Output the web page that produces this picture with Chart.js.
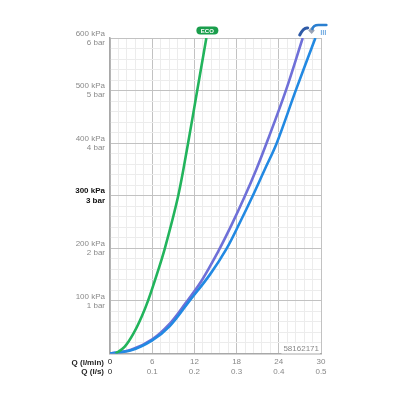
<!DOCTYPE html>
<html>
<head>
<meta charset="utf-8">
<script src="https://cdn.jsdelivr.net/npm/chart.js@4"></script>
<style>
html,body{margin:0;padding:0;background:#fff;}
#wrap{width:400px;height:400px;position:relative;}
</style>
</head>
<body>
<div id="wrap"><canvas id="c"></canvas></div>
<script>
// Pressure (kPa) vs flow (l/min)
const ecoQ    = [0.8, 2.1, 3.5, 4.5, 5.4, 6.65, 7.8, 9.7, 11.1, 12.4, 13.7];
const ecoP    = [0, 13, 42, 70, 100, 150, 200, 300, 400, 500, 600];
const handQ   = [0, 3, 6, 8.5, 10.7, 13.0, 15.3, 17.3, 19.1, 20.8, 22.4, 25.0, 27.4];
const handP   = [0, 7, 27, 57, 95, 138, 192, 245, 297, 350, 405, 500, 600];
const headQ   = [0, 3, 6, 8.5, 11.3, 14.2, 16.6, 18.5, 20.3, 22.0, 23.7, 26.4, 29.2];
const headP   = [0, 6, 25, 52, 100, 150, 200, 250, 300, 350, 400, 500, 600];
const kpaTicks = [100, 200, 300, 400, 500, 600];
const flowTicks = [0, 6, 12, 18, 24, 30];
const axisTitles = ['Q (l/min)', 'Q (l/s)'];
const codeText = '58162171';

const FONT = 'Liberation Sans, Arial, sans-serif';
const toXY = (qs, ps) => qs.map((q, i) => ({x: q, y: ps[i]}));

const isMajorX = v => flowTicks.some(t => Math.abs(t - v) < 1e-6);
const isMajorY = v => Math.abs(v % 100) < 1e-6;

const extras = {
  id: 'extras',
  afterDraw(chart) {
    const ctx = chart.ctx;
    const xs = chart.scales.x, ys = chart.scales.y;
    ctx.save();
    // axis titles at the bottom left
    ctx.font = 'bold 8px ' + FONT;
    ctx.fillStyle = '#222';
    ctx.textAlign = 'right';
    ctx.textBaseline = 'middle';
    ctx.fillText(axisTitles[0], xs.left - 6, ys.bottom + 9);
    ctx.fillText(axisTitles[1], xs.left - 6, ys.bottom + 18);
    // code label
    ctx.font = '8px ' + FONT;
    const w = ctx.measureText(codeText).width;
    const cx = xs.right - 2, cy = ys.bottom - 5;
    ctx.fillStyle = '#fff';
    ctx.fillRect(cx - w - 2, cy - 5, w + 3, 10);
    ctx.fillStyle = '#888';
    ctx.fillText(codeText, cx, cy);
    // ECO badge above the green curve end
    const ex = xs.getPixelForValue(ecoQ[ecoQ.length - 1]) + 1;
    const ey = ys.top - 7.5;
    ctx.fillStyle = '#1a9e4c';
    ctx.beginPath();
    const bw = 22, bh = 8;
    ctx.moveTo(ex - bw/2 + bh/2, ey - bh/2);
    ctx.lineTo(ex + bw/2 - bh/2, ey - bh/2);
    ctx.arc(ex + bw/2 - bh/2, ey, bh/2, -Math.PI/2, Math.PI/2);
    ctx.lineTo(ex - bw/2 + bh/2, ey + bh/2);
    ctx.arc(ex - bw/2 + bh/2, ey, bh/2, Math.PI/2, Math.PI*1.5);
    ctx.fill();
    ctx.fillStyle = '#fff';
    ctx.font = 'bold 6px ' + FONT;
    ctx.textAlign = 'center';
    ctx.fillText('ECO', ex, ey + 0.5);
    // hand shower icon
    const hx = xs.getPixelForValue(handQ[handQ.length - 1]);
    const hy = ys.top;
    ctx.strokeStyle = '#2f5aa6';
    ctx.lineWidth = 3;
    ctx.lineCap = 'round';
    ctx.beginPath();
    ctx.moveTo(hx - 3, hy - 3);
    ctx.quadraticCurveTo(hx + 1, hy - 11, hx + 5, hy - 10);
    ctx.stroke();
    ctx.fillStyle = '#9aa3b5';
    ctx.beginPath();
    ctx.moveTo(hx + 9, hy - 11);
    ctx.lineTo(hx + 12, hy - 7.5);
    ctx.lineTo(hx + 9, hy - 4);
    ctx.lineTo(hx + 5.5, hy - 7.5);
    ctx.closePath();
    ctx.fill();
    // overhead shower icon
    const ox = xs.getPixelForValue(headQ[headQ.length - 1]);
    ctx.strokeStyle = '#2a7fd0';
    ctx.lineWidth = 2.5;
    ctx.beginPath();
    ctx.moveTo(ox - 3, hy - 9);
    ctx.quadraticCurveTo(ox - 2, hy - 13, ox + 3, hy - 13);
    ctx.lineTo(ox + 11, hy - 13);
    ctx.stroke();
    ctx.strokeStyle = '#6aa6e0';
    ctx.lineWidth = 1;
    ctx.lineCap = 'butt';
    [6, 8, 10].forEach(d => {
      ctx.beginPath();
      ctx.moveTo(ox + d, hy - 8);
      ctx.lineTo(ox + d, hy - 3);
      ctx.stroke();
    });
    ctx.restore();
  }
};

new Chart(document.getElementById('c'), {
  type: 'line',
  data: {
    datasets: [
      {data: toXY(ecoQ, ecoP), borderColor: '#22b45c'},
      {data: toXY(headQ, headP), borderColor: '#2289e2'},
      {data: toXY(handQ, handP), borderColor: '#6f70d8'}
    ]
  },
  options: {
    responsive: true,
    maintainAspectRatio: false,
    animation: false,
    layout: {padding: {top: 38, right: 79, left: 0, bottom: 0}},
    elements: {
      point: {radius: 0},
      line: {borderWidth: 2.6, tension: 0.35, fill: false}
    },
    plugins: {legend: {display: false}, tooltip: {enabled: false}},
    scales: {
      x: {
        type: 'linear', min: 0, max: 30,
        afterFit: s => { s.height = 46.5; },
        grid: {
          drawTicks: false,
          color: c => isMajorX(c.tick.value) ? '#c2c2c2' : '#ececec',
          lineWidth: 1
        },
        border: {display: true, color: '#a8a8a8', width: 1.5},
        ticks: {
          stepSize: 1.2, autoSkip: false, maxRotation: 0, padding: 4,
          font: {family: FONT, size: 8, lineHeight: 1.15},
          color: c => c.tick && c.tick.value === 0 ? '#222' : '#888',
          callback: v => isMajorX(v)
            ? [String(Math.round(v)), v === 0 ? '0' : (v / 60).toFixed(1)]
            : ''
        }
      },
      y: {
        type: 'linear', min: 0, max: 600,
        afterFit: s => { s.width = 110; },
        grid: {
          drawTicks: false,
          color: c => isMajorY(c.tick.value) ? '#c2c2c2' : '#ececec',
          lineWidth: 1
        },
        border: {display: true, color: '#a8a8a8', width: 1.5},
        ticks: {
          stepSize: 20, autoSkip: false, padding: 5,
          font: c => ({family: FONT, size: 8, lineHeight: 1.15,
                       weight: c.tick && c.tick.value === 300 ? 'bold' : 'normal'}),
          color: c => c.tick && c.tick.value === 300 ? '#111' : '#8a8a8a',
          callback: v => kpaTicks.includes(v) ? [v + ' kPa', (v / 100) + ' bar'] : ''
        }
      }
    }
  },
  plugins: [extras]
});
</script>
</body>
</html>
